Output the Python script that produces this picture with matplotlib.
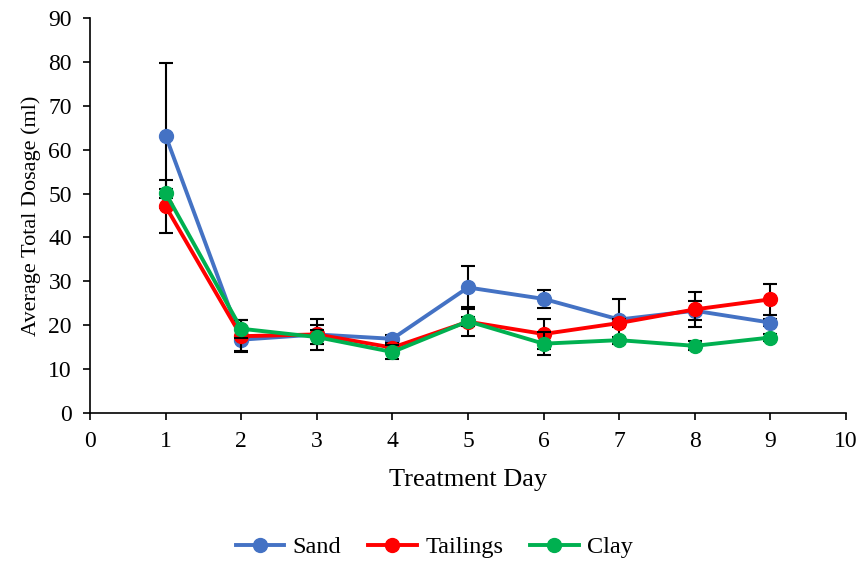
import matplotlib
matplotlib.use("Agg")
import matplotlib.pyplot as plt

plt.rcParams['font.family'] = ['Liberation Serif', 'DejaVu Serif']

days = [1, 2, 3, 4, 5, 6, 7, 8, 9]
sand = [63.2, 16.7, 17.9, 16.9, 28.6, 26.0, 21.3, 23.3, 20.6]
tailings = [47.1, 17.5, 17.9, 14.9, 20.8, 18.0, 20.5, 23.6, 25.9]
clay = [50.1, 19.2, 17.3, 13.9, 20.9, 15.8, 16.6, 15.3, 17.2]

sand_err = [16.5, 2.6, 3.5, 0.8, 5.0, 2.0, 4.7, 2.2, 0.8]
tailings_err = [6.0, 3.6, 2.1, 1.0, 3.3, 3.4, 1.0, 3.9, 3.5]
clay_err = [1.0, 2.0, 1.5, 1.6, 1.0, 2.6, 0.8, 1.0, 0.8]

series = [("Sand", sand, sand_err, "#4472C4"),
          ("Tailings", tailings, tailings_err, "#FF0000"),
          ("Clay", clay, clay_err, "#00B050")]

fig = plt.figure(figsize=(8.6, 5.65), dpi=100)
ax = fig.add_axes([90/860, 1 - 413/565, 756/860, 395/565])

for i, (name, vals, err, col) in enumerate(series):
    ax.errorbar(days, vals, yerr=err, fmt='none', ecolor='black',
                elinewidth=1.5, capsize=5, capthick=1.5, zorder=2 + 2*i)
    ax.plot(days, vals, color=col, lw=2.8, marker='o', markersize=10,
            label=name, zorder=3 + 2*i)

ax.set_xlim(0, 10)
ax.set_ylim(0, 90)
ax.set_xticks(range(0, 11))
ax.set_yticks(range(0, 91, 10))
ax.tick_params(direction='out', length=5, width=1.2, labelsize=17)
ax.tick_params(axis='x', pad=8)
ax.tick_params(axis='y', pad=8)
for s in ['top', 'right']:
    ax.spines[s].set_visible(False)
for s in ['left', 'bottom']:
    ax.spines[s].set_linewidth(1.2)

ax.set_xlabel("Treatment Day", fontsize=19, labelpad=12)
ax.set_ylabel("Average Total Dosage (ml)", fontsize=16, labelpad=5)

fig.legend(loc='center', bbox_to_anchor=(0.505, 1 - 547/565), ncol=3,
           frameon=False, fontsize=17.5, handlelength=2.0, columnspacing=1.1,
           handletextpad=0.35)

fig.savefig("out.png", dpi=100)
